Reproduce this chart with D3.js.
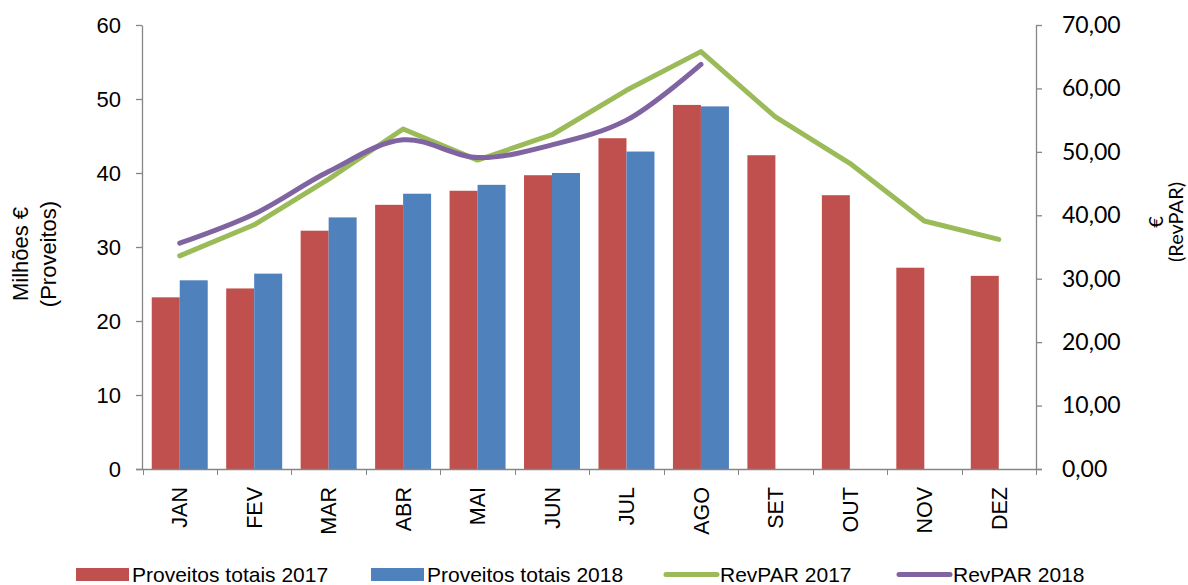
<!DOCTYPE html>
<html><head><meta charset="utf-8">
<script src="https://cdn.jsdelivr.net/npm/d3@7"></script>
<style>body{margin:0;background:#fff}svg{display:block}</style>
</head><body>
<svg id="c" width="1188" height="585"></svg>
<script>
const months = ["JAN","FEV","MAR","ABR","MAI","JUN","JUL","AGO","SET","OUT","NOV","DEZ"];
const proveitos2017 = [23.2,24.4,32.2,35.7,37.6,39.7,44.7,49.2,42.4,37.0,27.2,26.1];
const proveitos2018 = [25.5,26.4,34.0,37.2,38.4,40.0,42.9,49.0,null,null,null,null];
const revpar2017 = [33.6,38.5,45.7,53.6,48.7,52.7,59.7,65.8,55.5,48.2,39.1,36.2];
const revpar2018 = [35.6,40.2,46.9,51.9,49.1,51.1,55.0,63.8,null,null,null,null];
const leftTicks = [0,10,20,30,40,50,60];
const rightTicks = [0,10,20,30,40,50,60,70];
const seriesNames = ["Proveitos totais 2017","Proveitos totais 2018","RevPAR 2017","RevPAR 2018"];
const colors = ["#C0504D","#4F81BD","#9BBB59","#8064A2"];

const svg = d3.select("#c");
const L = 142, R = 1036, T = 25, B = 469;
const arial = "'Liberation Sans', Arial, sans-serif";
const lato = "Lato, 'Open Sans', sans-serif";
const x = d3.scaleBand().domain(months).range([L+0.5, R]).padding(0);
const x1 = d3.scaleBand().domain(["2017","2018"]).range([0, x.bandwidth()]).paddingInner(0).paddingOuter(0.33);
const yL = d3.scaleLinear().domain([0,60]).range([B,T]);
const yR = d3.scaleLinear().domain([0,70]).range([B,T]);

// bars
const barData = [];
months.forEach((m,i)=>{
  barData.push({m, s:"2017", v:proveitos2017[i], c:colors[0]});
  if (proveitos2018[i]!=null) barData.push({m, s:"2018", v:proveitos2018[i], c:colors[1]});
});
svg.append("g").selectAll("rect").data(barData).join("rect")
  .attr("x", d=>x(d.m)+x1(d.s))
  .attr("width", x1.bandwidth())
  .attr("y", d=>yL(d.v))
  .attr("height", d=>B-yL(d.v))
  .attr("fill", d=>d.c);

// lines
const cx = m => x(m)+x.bandwidth()/2;
const l17 = d3.line().x((d,i)=>cx(months[i])).y(d=>yR(d)).defined(d=>d!=null);
const l18 = d3.line().x((d,i)=>cx(months[i])).y(d=>yR(d)).defined(d=>d!=null).curve(d3.curveCatmullRom.alpha(0.5));
svg.append("path").attr("d", l17(revpar2017)).attr("fill","none").attr("stroke",colors[2]).attr("stroke-width",5).attr("stroke-linejoin","round").attr("stroke-linecap","round");
svg.append("path").attr("d", l18(revpar2018)).attr("fill","none").attr("stroke",colors[3]).attr("stroke-width",5).attr("stroke-linejoin","round").attr("stroke-linecap","round");

// axes
const axisColor = "#868686";
const gL = svg.append("g").attr("transform",`translate(${L},0)`)
  .call(d3.axisLeft(yL).tickValues(leftTicks).tickSize(6).tickPadding(15).tickSizeOuter(0));
gL.selectAll("text").attr("font-family",arial).attr("font-size","22px").attr("fill","#000");
const gR = svg.append("g").attr("transform",`translate(${R},0)`)
  .call(d3.axisRight(yR).tickValues(rightTicks).tickSize(6).tickPadding(20).tickSizeOuter(0)
    .tickFormat(d=>d3.format(".2f")(d).replace(".",",")));
gR.selectAll("text").attr("font-family",lato).attr("font-size","23px").attr("fill","#000");
const gB = svg.append("g").attr("transform",`translate(0,${B})`)
  .call(d3.axisBottom(x).tickSize(0).tickPadding(0).tickSizeOuter(0));
gB.select(".domain").attr("d",`M${L-6},0.5H${R+6}`);
gB.selectAll(".tick text")
  .attr("font-family",arial).attr("font-size","21.5px").attr("fill","#000")
  .attr("transform","rotate(-90)").attr("text-anchor","end").attr("dy","0.36em").attr("x",-18).attr("y",0);
// category boundary ticks
svg.append("g").selectAll("line").data(months.concat(["end"])).join("line")
  .attr("x1",(d,i)=> i<months.length ? Math.round(x(d))+0.5 : R+0.5)
  .attr("x2",(d,i)=> i<months.length ? Math.round(x(d))+0.5 : R+0.5)
  .attr("y1",B).attr("y2",B+6).attr("stroke",axisColor);
svg.selectAll(".domain, .tick line").attr("stroke",axisColor).attr("stroke-width",1.3);

// axis titles
const tL = svg.append("text").attr("transform","translate(0,254) rotate(-90)")
  .attr("text-anchor","middle").attr("font-family",arial).attr("font-size","22px");
tL.append("tspan").attr("x",0).attr("y",28).text("Milhões €");
tL.append("tspan").attr("x",0).attr("y",56).text("(Proveitos)");
const tR = svg.append("text").attr("transform","translate(1164,222) rotate(-90)")
  .attr("text-anchor","middle").attr("font-family",lato).attr("font-size","20px");
tR.append("tspan").attr("x",0).attr("y",-1).text("€");
tR.append("tspan").attr("x",0).attr("y",19).text("(RevPAR)");

// legend
const legX = [76, 371, 664, 897];
const lg = svg.append("g");
seriesNames.forEach((n,i)=>{
  const g = lg.append("g").attr("transform",`translate(${legX[i]},0)`);
  if (i<2) g.append("rect").attr("x",0).attr("y",568).attr("width",53).attr("height",13).attr("fill",colors[i]);
  else g.append("line").attr("x1",2).attr("x2",53).attr("y1",574.5).attr("y2",574.5).attr("stroke",colors[i]).attr("stroke-width",5).attr("stroke-linecap","round");
  g.append("text").attr("x",56).attr("y",582).attr("font-family",arial).attr("font-size","21px").text(n);
});
</script>
</body></html>
